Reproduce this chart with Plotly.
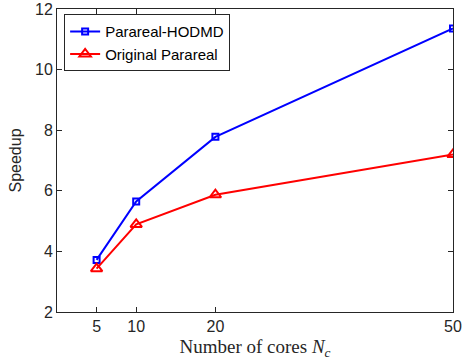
import plotly.graph_objects as go

cores = [5, 10, 20, 50]
hodmd = [3.72, 5.65, 7.78, 11.36]
original = [3.43, 4.89, 5.87, 7.20]
x_ticks = [5, 10, 20, 50]
y_ticks = [2, 4, 6, 8, 10, 12]

fig = go.Figure()
fig.add_trace(go.Scatter(x=cores, y=hodmd, mode="lines+markers", name="Parareal-HODMD",
                         line=dict(color="#0000FF", width=2),
                         marker=dict(symbol="square-open", size=6, color="#0000FF", line=dict(width=2))))
fig.add_trace(go.Scatter(x=cores, y=original, mode="lines+markers", name="Original Parareal",
                         line=dict(color="#FF0000", width=2),
                         marker=dict(symbol="triangle-up-open", size=10, color="#FF0000", line=dict(width=2))))

axis_common = dict(showline=True, mirror="ticks", linecolor="#262626", linewidth=1, automargin=False,
                   ticks="inside", ticklen=5, tickcolor="#262626", showgrid=False, zeroline=False,
                   tickfont=dict(family="Liberation Sans, Arial", size=16, color="#262626"))
fig.update_xaxes(range=[0, 50], tickvals=x_ticks, ticktext=[str(v) for v in x_ticks],
                 title=dict(text="Number of cores <i>N</i><sub><i>c</i></sub>",
                            font=dict(family="Liberation Serif, Times New Roman", size=19, color="#262626"),
                            standoff=5),
                 **axis_common)
fig.update_yaxes(range=[2, 12], tickvals=y_ticks,
                 title=dict(text="Speedup", font=dict(family="Liberation Sans, Arial", size=16, color="#262626"),
                            standoff=9),
                 **axis_common)
fig.update_layout(width=462, height=362, margin=dict(l=57, r=9, t=9, b=50, autoexpand=False),
                  plot_bgcolor="white", paper_bgcolor="white",
                  legend=dict(x=0.018, y=0.983, xanchor="left", yanchor="top",
                              bordercolor="#262626", borderwidth=1, bgcolor="white",
                              font=dict(family="Liberation Sans, Arial", size=15, color="black"),
                              tracegroupgap=0, itemwidth=30))
fig.write_html("out.html")
